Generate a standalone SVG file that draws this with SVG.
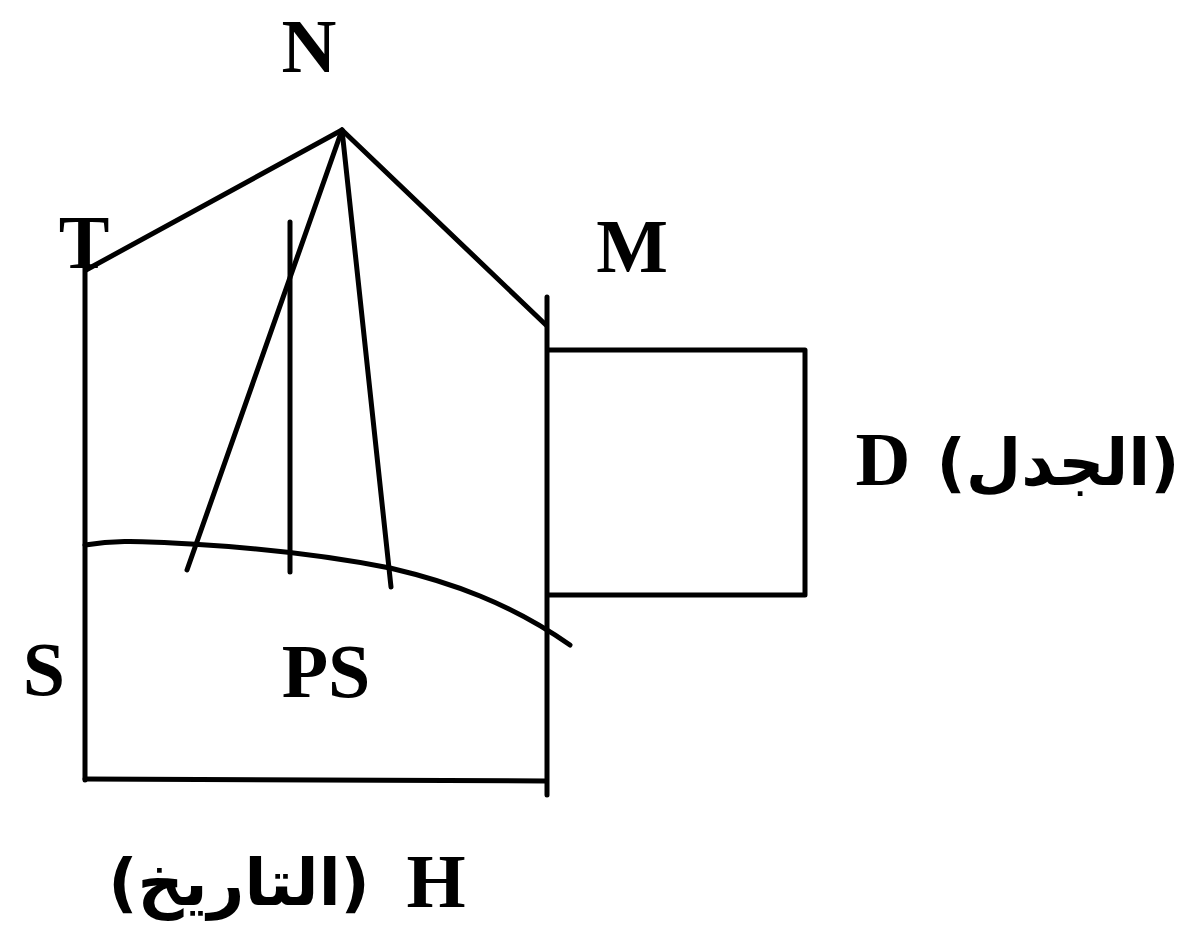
<svg xmlns="http://www.w3.org/2000/svg" width="1178" height="938" viewBox="0 0 1178 938">
<style>
.ln{fill:none;stroke:#000;stroke-width:5;stroke-linecap:round;stroke-linejoin:round}
.lb{font-family:"Liberation Serif","Times New Roman",serif;font-weight:bold;font-size:76px;fill:#000}
.ar{font-family:"DejaVu Sans",sans-serif;font-weight:bold;font-size:64px;fill:#000}
</style>
<rect width="1178" height="938" fill="#fff"/>
<g id="frame">
<line class="ln" x1="85" y1="262" x2="85" y2="780"/>
<line class="ln" x1="547" y1="297" x2="547" y2="795"/>
<line class="ln" x1="290" y1="222" x2="290" y2="572"/>
<line class="ln" x1="85" y1="779" x2="545" y2="781"/>
</g>
<g id="node-D">
<polyline class="ln" points="548,350 805,350 805,595 548,595"/>
</g>
<g id="curve">
<path class="ln" d="M85,545 C110,541 130,540 191,544 C260,548 330,556 390,568 C450,582 510,603 570,645"/>
</g>
<g id="connectors">
<line class="ln" x1="86" y1="270" x2="342" y2="130"/>
<line class="ln" x1="342" y1="130" x2="546" y2="325"/>
<line class="ln" x1="342" y1="130" x2="187" y2="570"/>
<line class="ln" x1="342" y1="130" x2="391" y2="587"/>
</g>
<g id="node-N"><text class="lb" x="309" y="72" text-anchor="middle">N</text></g>
<g id="node-T"><text class="lb" x="84" y="268" text-anchor="middle">T</text></g>
<g id="node-M"><text class="lb" x="632" y="272" text-anchor="middle">M</text></g>
<g id="node-D-label"><text class="lb" x="883" y="485" text-anchor="middle">D</text><text class="ar" x="1058" y="485" text-anchor="middle" font-size="50">(الجدل)</text></g>
<g id="node-S"><text class="lb" x="44" y="695" text-anchor="middle">S</text></g>
<g id="node-PS"><text class="lb" x="326" y="697" text-anchor="middle">PS</text></g>
<g id="node-H"><text class="lb" x="436" y="907" text-anchor="middle">H</text><text class="ar" x="239" y="905" text-anchor="middle">(التاريخ)</text></g>
</svg>
